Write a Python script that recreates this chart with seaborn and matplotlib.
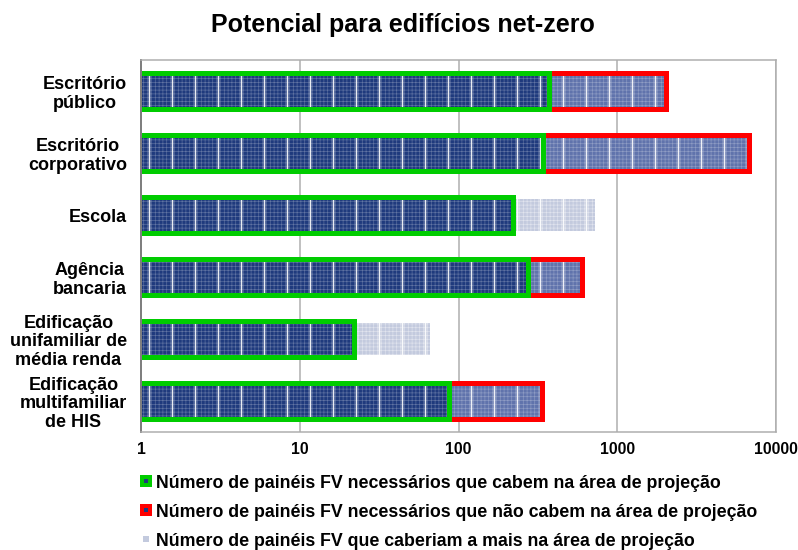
import numpy as np
import pandas as pd
import seaborn as sns
import matplotlib.pyplot as plt
from matplotlib.patches import Rectangle
from matplotlib.lines import Line2D
from matplotlib.ticker import FixedLocator, FixedFormatter, NullLocator

categorias = ["Escritório\npúblico", "Escritório\ncorporativo", "Escola", "Agência\nbancaria",
              "Edificação\nunifamiliar de\nmédia renda", "Edificação\nmultifamiliar\nde HIS"]
cabem = [372, 340, 221, 273, 22, 87]
nao_cabem = [1660, 6460, 0, 325, 0, 249]
a_mais = [0, 0, 505, 0, 44, 0]

x_ticks = [1, 10, 100, 1000, 10000]
x_labels = ["1", "10", "100", "1000", "10000"]

legenda = ["Número de painéis FV necessários que cabem na área de projeção",
           "Número de painéis FV necessários que não cabem na área de projeção",
           "Número de painéis FV que caberiam a mais na área de projeção"]

DPI = 138


def px(v):
    # pixels -> points at this dpi
    return v * 72 / DPI


azul = "#1F3A7D"
azul_medio = "#6073AC"
azul_claro = "#C3CADE"
verde = "#00CC00"
vermelho = "#FF0000"

df = pd.DataFrame({"categoria": categorias, "cabem": cabem,
                   "nao_cabem": nao_cabem, "a_mais": a_mais})
df["fim_vermelho"] = df["cabem"] + df["nao_cabem"]
df["fim_claro"] = df["cabem"] + df["a_mais"]

sns.set_style("white")
plt.rcParams["font.family"] = ["Liberation Sans", "DejaVu Sans"]
plt.rcParams["font.weight"] = "bold"
plt.rcParams["text.color"] = "black"
plt.rcParams["xtick.color"] = "black"
plt.rcParams["ytick.color"] = "black"

fig = plt.figure(figsize=(798 / DPI, 550 / DPI), dpi=DPI)
ax = fig.add_axes([141 / 798, 1 - 432 / 550, (776 - 141) / 798, (432 - 60) / 550])
ax.set_xscale("log")


def camada(dados, coluna, cor, largura, borda=None, alpha_grade=0.3):
    n0 = len(ax.patches)
    sns.barplot(data=dados, x=coluna, y="categoria", order=categorias, orient="h",
                color=cor, saturation=1, width=largura, errorbar=None,
                linewidth=0, ax=ax)
    barras = list(ax.patches[n0:])
    # solar panel look: panel joints + fine cell grid
    for hatch, cor_h, lw_h in [("|", (1, 1, 1, 0.9), px(1.6)),
                               ("++++++", (1, 1, 1, alpha_grade), px(0.6))]:
        for b in barras:
            with plt.rc_context({"hatch.linewidth": lw_h}):
                r = Rectangle((b.get_x(), b.get_y()), b.get_width(), b.get_height(),
                              facecolor="none", edgecolor=cor_h, linewidth=0, hatch=hatch)
            if hasattr(r, "set_hatch_linewidth"):
                r.set_hatch_linewidth(lw_h)
            ax.add_patch(r)
    if borda is not None:
        for b in barras:
            ax.add_patch(Rectangle((b.get_x(), b.get_y()), b.get_width(), b.get_height(),
                                   facecolor="none", edgecolor=borda, linewidth=px(5)))


camada(df[df["a_mais"] > 0], "fim_claro", azul_claro, 0.53, alpha_grade=0.5)
camada(df[df["nao_cabem"] > 0], "fim_vermelho", azul_medio, 0.58, vermelho)
camada(df, "cabem", azul, 0.58, verde)

ax.set_xlim(1, 10000)
ax.set_ylim(5.5, -0.5)
ax.xaxis.set_major_locator(FixedLocator(x_ticks))
ax.xaxis.set_major_formatter(FixedFormatter(x_labels))
ax.xaxis.set_minor_locator(NullLocator())
ax.set_yticks(range(len(categorias)))
ax.set_yticklabels(categorias, multialignment="center", fontsize=px(18),
                   fontweight="bold", linespacing=1.12)
ax.set_xlabel("")
ax.set_ylabel("")
ax.tick_params(axis="x", length=0, labelsize=px(15.7), pad=px(10))
ax.tick_params(axis="y", length=0, pad=px(14))
ax.grid(axis="x", color="#ADADAD", linewidth=px(1.5))
ax.grid(axis="y", visible=False)
ax.set_axisbelow(True)
for s in ax.spines.values():
    s.set_visible(True)
    s.set_color("#ADADAD")
    s.set_linewidth(px(1.5))
ax.spines["left"].set_color("#7F7F7F")
ax.spines["left"].set_linewidth(px(2))

fig.text(403 / 798, 1 - 32 / 550, "Potencial para edifícios net-zero",
         ha="center", va="baseline", fontsize=px(25), fontweight="bold")

h1 = Line2D([], [], marker="s", ls="none", markersize=px(8), markerfacecolor=azul,
            markeredgecolor=verde, markeredgewidth=px(4))
h2 = Line2D([], [], marker="s", ls="none", markersize=px(8), markerfacecolor=azul,
            markeredgecolor=vermelho, markeredgewidth=px(4))
h3 = Line2D([], [], marker="s", ls="none", markersize=px(7), markerfacecolor=azul_claro,
            markeredgewidth=0)
fig.legend([h1, h2, h3], legenda, loc="upper left", bbox_to_anchor=(139 / 798, 1 - 474.5 / 550),
           frameon=False, prop={"size": px(17.7), "weight": "bold"}, handlelength=0.76,
           handletextpad=0.2, borderpad=0, borderaxespad=0, labelspacing=0.68)

fig.savefig("out.png", dpi=DPI)
